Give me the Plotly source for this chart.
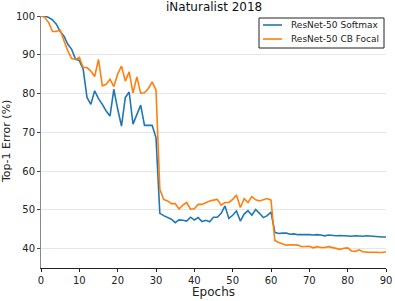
import plotly.graph_objects as go

epochs = list(range(0, 91))

softmax = [100, 100, 99.6, 99, 97.9, 96, 94.8, 92.7, 91.4, 88.9,
           88.5, 86.3, 79, 77.2, 80.7, 78.7, 77.2, 75.5, 74.2, 81.1,
           76, 71.6, 79, 80.4, 72.1, 74.4, 77, 71.8, 71.8, 71.8,
           68.6, 49.1, 48.5, 48, 47.6, 46.7, 47.4, 47.3, 47.1, 48.1,
           47.4, 48, 47, 47.3, 46.9, 48.1, 48.1, 49.1, 51, 47.8,
           48.6, 49.7, 47.1, 48.9, 49.8, 48.6, 50.1, 49.1, 48, 48.5,
           49.4, 44.2, 43.9, 44.0, 44.0, 43.7, 43.8, 43.6, 43.6, 43.7,
           43.6, 43.5, 43.6, 43.5, 43.3, 43.5, 43.4, 43.3, 43.4, 43.3,
           43.3, 43.2, 43.3, 43.2, 43.2, 43.3, 43.2, 43.1, 43.1, 43.0, 43.0]

cb_focal = [100, 99.6, 98.3, 96.0, 96.0, 96.4, 93.6, 91, 89, 88.8,
            89.3, 86.7, 86.7, 85.8, 84.4, 88.8, 82, 82.4, 83.7, 81.8,
            85, 87.1, 83.2, 85.6, 80.1, 84.3, 80.1, 80.2, 81.3, 83,
            80.9, 55.3, 52.7, 52.3, 51.6, 51.6, 50.2, 51.2, 51.9, 50.2,
            50.3, 51.4, 51.4, 51.9, 52.3, 52.5, 52.7, 51.2, 51.9, 51.9,
            52.7, 53.8, 50.6, 52.9, 51.9, 53.4, 52.6, 52.3, 52.6, 52.9,
            52.5, 42.1, 41.6, 41.3, 40.9, 41, 40.9, 40.9, 40.5, 40.6,
            40.6, 40.2, 40.5, 40.3, 40.3, 40.5, 40.2, 40, 39.8, 40.1,
            40.2, 39.4, 39.3, 39.7, 39.2, 39.1, 39.1, 39, 39, 39, 39.2]

series_names = ["ResNet-50 Softmax", "ResNet-50 CB Focal"]
series_colors = ["#1f77b4", "#ff7f0e"]
x_ticks = [0, 10, 20, 30, 40, 50, 60, 70, 80, 90]
y_ticks = [40, 50, 60, 70, 80, 90, 100]

FONT = "DejaVu Sans"

fig = go.Figure()
for name, vals, col in zip(series_names, [softmax, cb_focal], series_colors):
    fig.add_trace(go.Scatter(x=epochs, y=vals, mode="lines", name=name,
                             line=dict(color=col, width=1.6), showlegend=False))

# plot area: x 41..386 px, y 16..268 px  (345 x 252)
W, H = 345.0, 252.0
def px(x):
    return (x - 41) / W
def py(y):
    return (268 - y) / H

shapes = [dict(type="rect", xref="paper", yref="paper",
               x0=px(259), x1=px(384), y0=py(48), y1=py(18),
               line=dict(color="#222", width=1), fillcolor="white", layer="above")]
annotations = []
for i, (name, col) in enumerate(zip(series_names, series_colors)):
    yy = py(25 + 14 * i)
    shapes.append(dict(type="line", xref="paper", yref="paper",
                       x0=px(263), x1=px(282), y0=yy, y1=yy,
                       line=dict(color=col, width=1.6), layer="above"))
    annotations.append(dict(xref="paper", yref="paper", x=px(289), y=yy,
                            xanchor="left", yanchor="middle", showarrow=False,
                            text=name, font=dict(family=FONT, size=9, color="#222")))

annotations += [
    dict(xref="paper", yref="paper", x=0.5, y=1, xanchor="center", yanchor="bottom",
         yshift=0, showarrow=False, text="iNaturalist 2018",
         font=dict(family=FONT, size=12, color="#111")),
    dict(xref="paper", yref="paper", x=0.5, y=0, xanchor="center", yanchor="top",
         yshift=-15, showarrow=False, text="Epochs",
         font=dict(family=FONT, size=12, color="#222")),
    dict(xref="paper", yref="paper", x=0, y=0.5, xanchor="center", yanchor="middle",
         xshift=-35, textangle=-90, showarrow=False, text="Top-1 Error (%)",
         font=dict(family=FONT, size=11, color="#222")),
]

fig.update_layout(
    width=395, height=301,
    margin=dict(l=41, r=9, t=16, b=33, autoexpand=False),
    paper_bgcolor="white", plot_bgcolor="white",
    font=dict(family=FONT, size=10, color="#222"),
    showlegend=False,
    shapes=shapes, annotations=annotations,
    xaxis=dict(range=[0, 90], tickvals=x_ticks, showgrid=False, zeroline=False,
               showline=True, linecolor="#222", linewidth=1, automargin=False,
               ticks="outside", ticklen=3, tickcolor="#222",
               tickfont=dict(family=FONT, size=10, color="#222")),
    yaxis=dict(range=[35, 100], tickvals=y_ticks, showgrid=True, gridcolor="#e6e6e6",
               zeroline=False, showline=True, linecolor="#888", linewidth=1,
               automargin=False, ticks="outside", ticklen=3, tickcolor="#444",
               tickfont=dict(family=FONT, size=10, color="#222")),
)

fig.write_html("out.html", config={"displayModeBar": False},
               post_script="document.body.style.margin='0';document.body.style.overflow='hidden';")
